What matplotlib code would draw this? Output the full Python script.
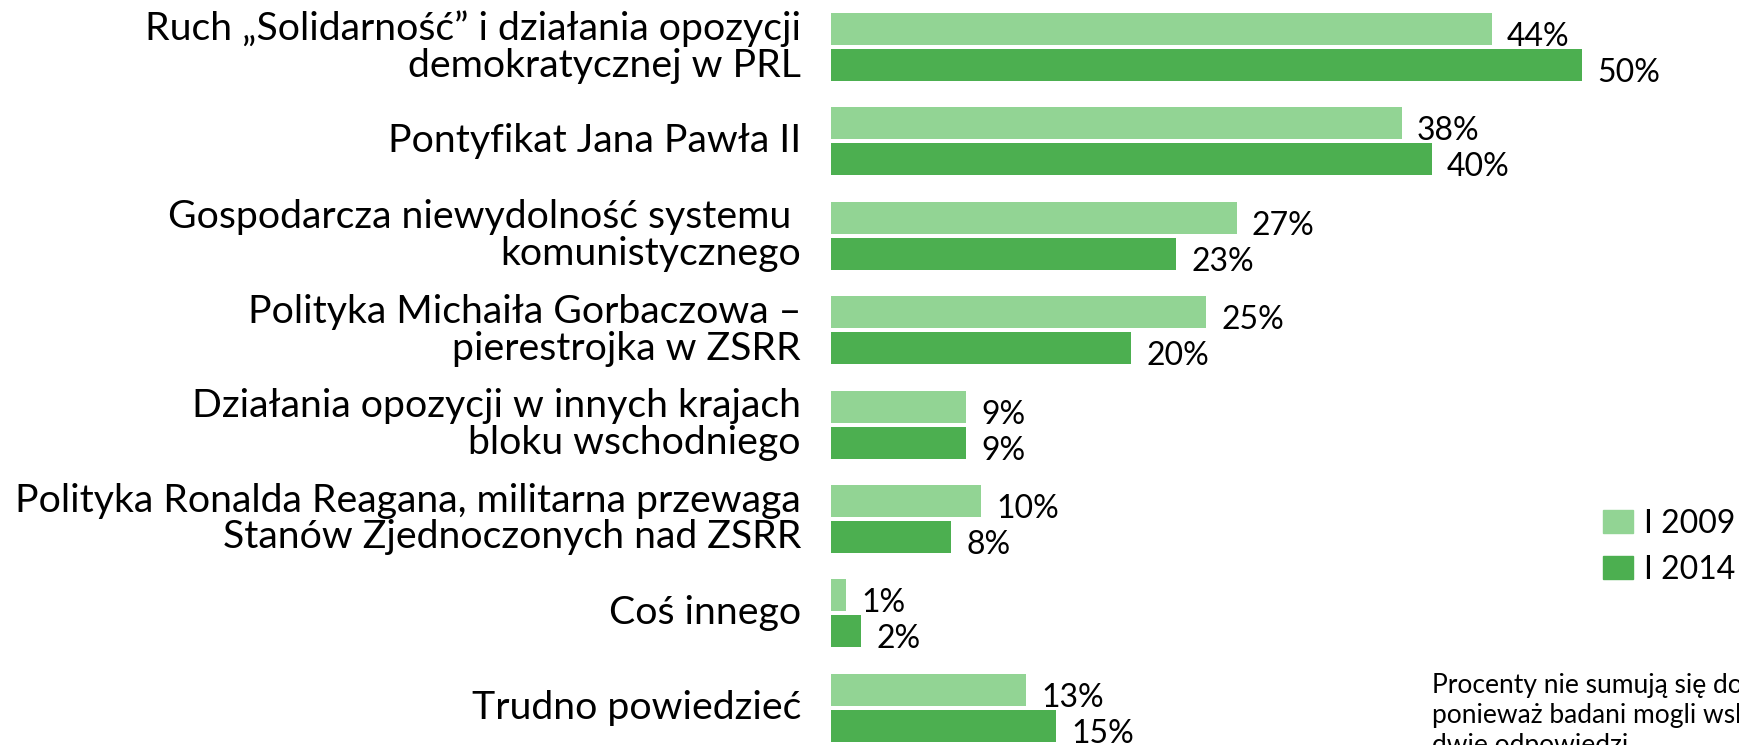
import matplotlib
matplotlib.use("Agg")
import matplotlib.pyplot as plt
from matplotlib.patches import Patch

categories = [
    "Ruch \u201eSolidarność\u201d i działania opozycji\ndemokratycznej w PRL",
    "Pontyfikat Jana Pawła II",
    "Gospodarcza niewydolność systemu \nkomunistycznego",
    "Polityka Michaiła Gorbaczowa \u2013\npierestrojka w ZSRR",
    "Działania opozycji w innych krajach\nbloku wschodniego",
    "Polityka Ronalda Reagana, militarna przewaga\nStanów Zjednoczonych nad ZSRR",
    "Coś innego",
    "Trudno powiedzieć",
]
values_2009 = [44, 38, 27, 25, 9, 10, 1, 13]
values_2014 = [50, 40, 23, 20, 9, 8, 2, 15]
series_names = ["I 2009", "I 2014"]
note_lines = ["Procenty nie sumują się do 100,",
              "ponieważ badani mogli wskazać",
              "dwie odpowiedzi."]

FONT = ["Lato", "DejaVu Sans"]
plt.rcParams["font.family"] = FONT

W, H = 1740, 745
fig = plt.figure(figsize=(W / 100, H / 100), dpi=100)
left_px = 831
px_per_unit = 15.02
group_px = 94.4
ax = fig.add_axes([left_px / W, 0, (W - left_px) / W, 1])
ax.set_xlim(0, (W - left_px) / px_per_unit)
top_center_px = 47
ax.set_ylim((H - top_center_px) / group_px, -top_center_px / group_px)
ax.axis("off")

c_light = "#92D494"
c_dark = "#4CAF50"
bar_h = 32 / group_px
off = 18 / group_px

ys = list(range(len(categories)))
ax.barh([y - off for y in ys], values_2009, height=bar_h, color=c_light)
ax.barh([y + off for y in ys], values_2014, height=bar_h, color=c_dark)

lab_dx = 15 / px_per_unit
lab_dy = 17 / group_px
for y, v1, v2 in zip(ys, values_2009, values_2014):
    ax.text(v1 + lab_dx, y - off + lab_dy, f"{v1}%", fontsize=23,
            ha="left", va="baseline", color="black")
    ax.text(v2 + lab_dx, y + off + lab_dy, f"{v2}%", fontsize=23,
            ha="left", va="baseline", color="black")

cat_x = -30 / px_per_unit
for y, c in zip(ys, categories):
    ax.text(cat_x, y, c, fontsize=28.3, ha="right", va="center",
            multialignment="right", linespacing=1.03, color="black",
            clip_on=False)

handles = [Patch(color=c_light), Patch(color=c_dark)]
fig.legend(handles, series_names, loc="upper left",
           bbox_to_anchor=(1603 / W, 1 - 509 / H), frameon=False,
           fontsize=23, handlelength=0.94, handleheight=0.73,
           handletextpad=0.33, labelspacing=0.5, borderpad=0,
           borderaxespad=0)

note_baseline_px = 693
note_step_px = 30
for i, line in enumerate(note_lines):
    fig.text(1432 / W, 1 - (note_baseline_px + i * note_step_px) / H, line,
             fontsize=19, ha="left", va="baseline", color="black")

fig.savefig("out.png", dpi=100)
